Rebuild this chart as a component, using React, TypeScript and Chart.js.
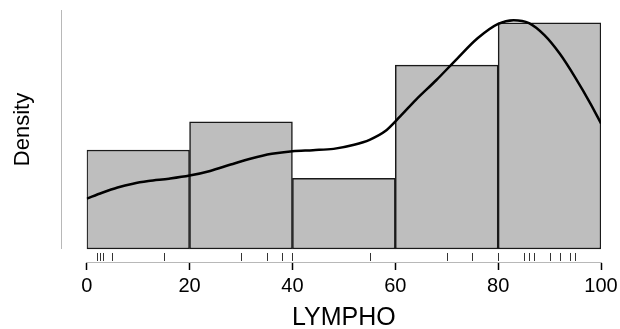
import React, { useEffect, useRef } from "react";
import { Chart, registerables } from "chart.js";

Chart.register(...registerables);

// Histogram bins (LYMPHO), density per bin
const BIN_MIDS = [10, 30, 50, 70, 90];
const BIN_DENSITY = [0.007, 0.009, 0.005, 0.013, 0.016];

// Kernel density curve
const CURVE_X = [0, 3, 6, 9, 12, 16, 20, 24, 28, 32, 36, 40, 44, 48, 52, 55, 58, 61, 64, 68, 72, 76, 80, 83, 86, 89, 92, 95, 98, 100];
const CURVE_Y = [0.00356, 0.00398, 0.00435, 0.00462, 0.0048, 0.00497, 0.00519, 0.00552, 0.00597, 0.0064, 0.00673, 0.00692, 0.00699, 0.00708, 0.00737, 0.00772, 0.00832, 0.0094, 0.01055, 0.01195, 0.01345, 0.0149, 0.01592, 0.01618, 0.01597, 0.01512, 0.0138, 0.01212, 0.01025, 0.00888];

// Rug (observed values)
const RUG = [2, 2.6, 3.1, 5, 15, 30, 35, 38, 40, 55, 70, 75, 80, 85, 86, 87, 90, 92, 94, 95];

// X tick labels
const X_TICKS = [0, 20, 40, 60, 80, 100];

const Y_MIN = -0.00092;
const Y_MAX = 0.0169;

const FONT = "'Liberation Sans', Arial, Helvetica, sans-serif";

const extrasPlugin = {
  id: "extras",
  afterDatasetsDraw(chart: any) {
    const { ctx, scales, chartArea } = chart;
    const xs = scales.x;
    const ys = scales.y;
    const base = ys.getPixelForValue(0);
    const top = ys.getPixelForValue(Y_MAX);
    ctx.save();
    // rug
    ctx.strokeStyle = "#333";
    ctx.lineWidth = 1;
    ctx.beginPath();
    RUG.forEach((v) => {
      const px = Math.round(xs.getPixelForValue(v)) + 0.5;
      ctx.moveTo(px, base + 4);
      ctx.lineTo(px, base + 12);
    });
    ctx.stroke();
    // y axis line (no ticks)
    ctx.strokeStyle = "#b8b8b8";
    ctx.lineWidth = 1;
    ctx.beginPath();
    const lx = Math.round(chartArea.left - 26) + 0.5;
    ctx.moveTo(lx, top);
    ctx.lineTo(lx, base);
    ctx.stroke();
    // y axis title
    ctx.translate(chartArea.left - 64, (top + base) / 2);
    ctx.rotate(-Math.PI / 2);
    ctx.fillStyle = "#000";
    ctx.font = `22px ${FONT}`;
    ctx.textAlign = "center";
    ctx.textBaseline = "middle";
    ctx.fillText("Density", 0, 0);
    ctx.restore();
  },
};

export default function App() {
  const ref = useRef<HTMLCanvasElement>(null);
  useEffect(() => {
    if (!ref.current) return;
    const chart = new Chart(ref.current, {
      type: "bar",
      data: {
        datasets: [
          {
            type: "line",
            data: CURVE_X.map((x, i) => ({ x, y: CURVE_Y[i] })),
            borderColor: "#000",
            borderWidth: 2.5,
            pointRadius: 0,
            cubicInterpolationMode: "monotone",
            fill: false,
            order: 0,
          } as any,
          {
            type: "bar",
            data: BIN_MIDS.map((x, i) => ({ x, y: BIN_DENSITY[i] })),
            backgroundColor: "#bebebe",
            borderColor: "#1a1a1a",
            borderWidth: 1.5,
            borderSkipped: false,
            barPercentage: 1,
            categoryPercentage: 1,
            order: 1,
          } as any,
        ],
      },
      options: {
        animation: false,
        responsive: false,
        devicePixelRatio: 1,
        layout: { padding: { top: 10, right: 19, bottom: 0, left: 0 } },
        plugins: { legend: { display: false }, tooltip: { enabled: false } },
        scales: {
          x: {
            type: "linear",
            min: 0,
            max: 100,
            offset: false,
            afterBuildTicks: (s: any) => {
              s.ticks = X_TICKS.map((v) => ({ value: v }));
            },
            afterFit: (s: any) => {
              s.height = 67;
            },
            ticks: {
              autoSkip: false,
              maxRotation: 0,
              padding: 1,
              color: "#000",
              font: { family: FONT, size: 20, lineHeight: 1.5 },
            },
            grid: {
              offset: false,
              drawOnChartArea: false,
              tickLength: 8,
              tickColor: "#000",
              tickWidth: 1.5,
            },
            border: { display: true, color: "#b8b8b8", width: 1 },
            title: {
              display: true,
              text: "LYMPHO",
              color: "#000",
              font: { family: FONT, size: 25, lineHeight: 1 },
              padding: { top: 0, bottom: -1.5 },
            },
          },
          y: {
            type: "linear",
            min: Y_MIN,
            max: Y_MAX,
            afterFit: (s: any) => {
              s.width = 86.7;
            },
            ticks: { display: false },
            grid: { display: false },
            border: { display: false },
            title: { display: false },
          },
        },
      } as any,
      plugins: [extrasPlugin],
    });
    return () => chart.destroy();
  }, []);
  return (
    <div style={{ position: "fixed", left: 0, top: 0, width: 620, height: 329, background: "#fff" }}>
      <canvas ref={ref} width={620} height={329} />
    </div>
  );
}
